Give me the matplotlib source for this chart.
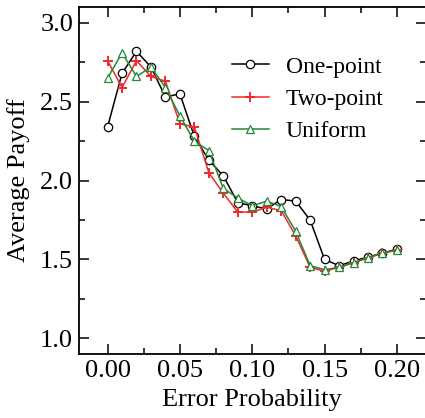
import numpy as np
import matplotlib
matplotlib.use("Agg")
import matplotlib.pyplot as plt
from matplotlib.ticker import MultipleLocator

plt.rcParams['font.family'] = ['Liberation Serif', 'DejaVu Serif']

err = [0.00, 0.01, 0.02, 0.03, 0.04, 0.05, 0.06, 0.07, 0.08, 0.09, 0.10,
       0.11, 0.12, 0.13, 0.14, 0.15, 0.16, 0.17, 0.18, 0.19, 0.20]
one_point = [2.34, 2.68, 2.82, 2.72, 2.53, 2.55, 2.28, 2.13, 2.03, 1.86, 1.84,
             1.82, 1.88, 1.87, 1.75, 1.50, 1.46, 1.49, 1.515, 1.54, 1.565]
two_point = [2.76, 2.59, 2.76, 2.66, 2.63, 2.36, 2.34, 2.05, 1.92, 1.80, 1.80,
             1.83, 1.81, 1.65, 1.45, 1.425, 1.45, 1.48, 1.51, 1.54, 1.56]
uniform = [2.65, 2.81, 2.66, 2.72, 2.59, 2.41, 2.25, 2.19, 1.95, 1.89, 1.84,
           1.87, 1.835, 1.68, 1.46, 1.435, 1.45, 1.48, 1.51, 1.54, 1.56]

fig = plt.figure(figsize=(4.25, 4.18), dpi=100)
ax = fig.add_axes([0.185, 0.153, 0.817, 0.83])

ax.plot(err, one_point, color="black", lw=1.1, marker="o", ms=6,
        mfc="white", mec="black", mew=0.9, label="One-point")
ax.plot(err, two_point, color="#ee2a2a", lw=1.1, marker="+", ms=7,
        mew=1.4, label="Two-point")
ax.plot(err, uniform, color="#23883a", lw=1.1, marker="^", ms=6,
        mfc="white", mec="#23883a", mew=0.9, label="Uniform")

ax.set_xlim(-0.02, 0.22)
ax.set_ylim(0.9, 3.1)
ax.xaxis.set_major_locator(MultipleLocator(0.05))
ax.xaxis.set_minor_locator(MultipleLocator(0.025))
ax.yaxis.set_major_locator(MultipleLocator(0.5))
ax.yaxis.set_minor_locator(MultipleLocator(0.25))
ax.tick_params(which="both", direction="in", top=True, right=True,
               labelsize=19, width=1.1)
ax.tick_params(which="major", length=7, pad=4)
ax.tick_params(which="minor", length=4)
for s in ax.spines.values():
    s.set_linewidth(1.3)

ax.set_xlabel("Error Probability", fontsize=19, labelpad=5)
ax.set_ylabel("Average Payoff", fontsize=19, labelpad=7)

ax.legend(loc="upper right", bbox_to_anchor=(0.94, 0.92), frameon=False,
          fontsize=17, handlelength=1.6, handletextpad=0.7, labelspacing=0.45)

fig.savefig("out.png", dpi=100)
